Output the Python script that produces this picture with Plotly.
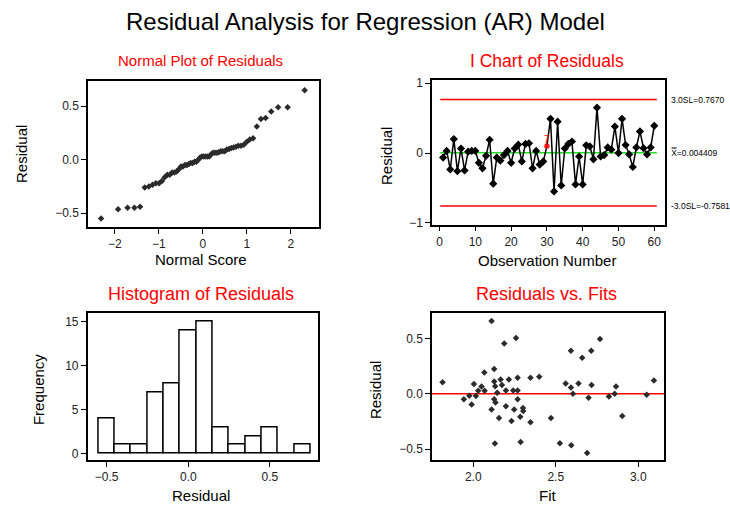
import plotly.graph_objects as go

# ---------------- data ----------------
observations = list(range(1, 61))
residuals = [-0.065, 0.03, -0.235, 0.2, -0.26, 0.065, -0.25, 0.02, 0.03, 0.03,
             -0.14, -0.22, -0.04, 0.19, -0.44, -0.065, -0.11, -0.03, 0.03, -0.14,
             0.065, 0.12, -0.12, 0.13, 0.14, -0.22, 0.03, -0.165, -0.12, 0.10,
             0.49, -0.55, 0.45, -0.465, 0.065, 0.13, 0.165, -0.45, -0.05, -0.45,
             0.11, 0.095, -0.09, 0.65, -0.05, -0.03, 0.08, 0.05, 0.38, 0.0,
             0.49, 0.115, -0.02, -0.2, 0.08, 0.31, 0.07, -0.02, 0.08, 0.39]

normal_scores = [-2.313, -1.927, -1.711, -1.554, -1.427, -1.320, -1.227, -1.142, -1.066, -0.995,
                 -0.930, -0.867, -0.808, -0.752, -0.698, -0.645, -0.595, -0.546, -0.498, -0.452,
                 -0.406, -0.361, -0.317, -0.274, -0.231, -0.188, -0.146, -0.104, -0.062, -0.021,
                 0.021, 0.062, 0.104, 0.146, 0.188, 0.231, 0.274, 0.317, 0.361, 0.406,
                 0.452, 0.498, 0.546, 0.595, 0.645, 0.698, 0.752, 0.808, 0.867, 0.930,
                 0.995, 1.066, 1.142, 1.227, 1.320, 1.427, 1.554, 1.711, 1.927, 2.313]
sorted_residuals = sorted(residuals)

UCL = 0.7670
CL = 0.004409
LCL = -0.7581
flagged_obs = 30
flag_label = "7"

hist_centers = [-0.5, -0.4, -0.3, -0.2, -0.1, 0.0, 0.1, 0.2, 0.3, 0.4, 0.5, 0.6, 0.7]
hist_counts = [4, 1, 1, 7, 8, 14, 15, 3, 1, 2, 3, 0, 1]

fits = [1.814, 1.943, 1.976, 1.990, 2.004, 2.016, 2.030, 2.050, 2.067, 2.069,
        2.111, 2.111, 2.127, 2.127, 2.127, 2.133, 2.135, 2.145, 2.131, 2.156,
        2.166, 2.174, 2.188, 2.198, 2.198, 2.216, 2.232, 2.242, 2.248, 2.259,
        2.269, 2.269, 2.269, 2.285, 2.287, 2.301, 2.303, 2.347, 2.347, 2.400,
        2.471, 2.525, 2.560, 2.592, 2.592, 2.594, 2.604, 2.638, 2.660, 2.690,
        2.699, 2.715, 2.717, 2.768, 2.822, 2.857, 2.865, 2.903, 3.051, 3.095]
fit_residuals = [0.104, -0.050, -0.018, -0.098, 0.089, -0.020, 0.027, 0.065, 0.193, 0.027,
                 0.659, -0.142, 0.223, 0.110, -0.050, 0.068, -0.080, 0.009, -0.451, -0.220,
                 0.130, 0.080, 0.454, -0.113, 0.030, 0.130, -0.246, 0.030, -0.142, 0.504,
                 0.145, 0.030, -0.050, -0.208, -0.436, -0.128, -0.157, 0.145, -0.258, 0.154,
                 -0.220, -0.448, 0.092, 0.389, 0.056, -0.466, 0.000, 0.092, 0.326, -0.537,
                 -0.036, 0.389, 0.080, 0.496, -0.024, 0.000, 0.065, -0.202, -0.009, 0.119]

# ---------------- figure ----------------
W, H = 730, 509
FONT = "Liberation Sans, Arial, sans-serif"
MARK = dict(symbol="diamond", size=5, color="#2b2b2b")

fig = go.Figure()

# Normal plot
fig.add_trace(go.Scatter(x=normal_scores, y=sorted_residuals, mode="markers",
                         marker=MARK, xaxis="x", yaxis="y", showlegend=False))

# I chart
flag_i = observations.index(flagged_obs)
colors = ["#000000"] * len(observations)
symbols = ["diamond"] * len(observations)
colors[flag_i] = "#ff0000"
symbols[flag_i] = "asterisk-open"
fig.add_trace(go.Scatter(x=observations, y=residuals, mode="lines+markers",
                         line=dict(color="black", width=1.5),
                         marker=dict(symbol=symbols, size=5, color=colors,
                                     line=dict(color=colors, width=1.2)),
                         xaxis="x2", yaxis="y2", showlegend=False))

# Histogram
fig.add_trace(go.Bar(x=hist_centers, y=hist_counts, width=0.1,
                     marker=dict(color="white", line=dict(color="black", width=1.5)),
                     xaxis="x3", yaxis="y3", showlegend=False))

# Residuals vs fits
fig.add_trace(go.Scatter(x=fits, y=fit_residuals, mode="markers",
                         marker=MARK, xaxis="x4", yaxis="y4", showlegend=False))


def px_x(p):
    return p / W


def px_y(p):
    return 1 - p / H


axis_style = dict(showline=True, linecolor="black", linewidth=1.5, mirror=True,
                  ticks="outside", ticklen=5, tickwidth=1, tickcolor="black",
                  showgrid=False, zeroline=False,
                  tickfont=dict(size=12, color="#222222", family=FONT))

fig.update_layout(
    width=W, height=H,
    margin=dict(l=0, r=0, t=0, b=0),
    paper_bgcolor="white", plot_bgcolor="white",
    font=dict(family=FONT, color="black"),
    bargap=0,
    xaxis=dict(domain=[px_x(88), px_x(319)], range=[-2.61, 2.64], anchor="y",
               tickvals=[-2, -1, 0, 1, 2], **axis_style),
    yaxis=dict(domain=[px_y(227), px_y(78)], range=[-0.63, 0.74], anchor="x",
               tickvals=[-0.5, 0.0, 0.5], tickformat=".1f", **axis_style),
    xaxis2=dict(domain=[px_x(432), px_x(665)], range=[-2.1, 63], anchor="y2",
                tickvals=[0, 10, 20, 30, 40, 50, 60], **axis_style),
    yaxis2=dict(domain=[px_y(224.5), px_y(77.5)], range=[-1.025, 1.045], anchor="x2",
                tickvals=[-1, 0, 1], **axis_style),
    xaxis3=dict(domain=[px_x(87.7), px_x(318.3)], range=[-0.616, 0.796], anchor="y3",
                tickvals=[-0.5, 0.0, 0.5], tickformat=".1f", **axis_style),
    yaxis3=dict(domain=[px_y(464.3), px_y(315)], range=[-0.74, 15.93], anchor="x3",
                tickvals=[0, 5, 10, 15], **axis_style),
    xaxis4=dict(domain=[px_x(432), px_x(664)], range=[1.75, 3.156], anchor="y4",
                tickvals=[2.0, 2.5, 3.0], tickformat=".1f", **axis_style),
    yaxis4=dict(domain=[px_y(464.3), px_y(314.3)], range=[-0.60, 0.733], anchor="x4",
                tickvals=[-0.5, 0.0, 0.5], tickformat=".1f", **axis_style),
)

# Control lines
x_lo, x_hi = observations[0] - 0.8, observations[-1] + 0.7
for val, col in [(UCL, "#ff0000"), (LCL, "#ff0000"), (CL, "#22dd22")]:
    fig.add_shape(type="line", xref="x2", yref="y2", x0=x_lo, x1=x_hi, y0=val, y1=val,
                  line=dict(color=col, width=1.5), layer="below")
fig.add_shape(type="line", xref="x4 domain", yref="y4", x0=0, x1=1, y0=0, y1=0,
              line=dict(color="#ff0000", width=1.5), layer="below")

ann = []


def text(x, y, s, size, color="black", angle=0, xanchor="center", xref="paper", yref="paper"):
    ann.append(dict(x=x, y=y, xref=xref, yref=yref, text=s, showarrow=False,
                    xanchor=xanchor, yanchor="middle", textangle=angle,
                    font=dict(size=size, color=color, family=FONT)))


text(0.5, px_y(18), "Residual Analysis for Regression (AR) Model", 24)
text(px_x(201), px_y(58), "Normal Plot of Residuals", 15, "#ff0000")
text(px_x(547), px_y(58), "I Chart of Residuals", 17.5, "#ff0000")
text(px_x(200.5), px_y(295), "Histogram of Residuals", 18, "#ff0000")
text(px_x(546), px_y(295), "Residuals vs. Fits", 18, "#ff0000")

text(px_x(201), px_y(260), "Normal Score", 15)
text(px_x(21.7), px_y(153), "Residual", 15, angle=-90)
text(px_x(547), px_y(261), "Observation Number", 15)
text(px_x(386.7), px_y(155), "Residual", 15, angle=-90)
text(px_x(200.5), px_y(500), "Residual", 15)
text(px_x(38), px_y(393), "Frequency", 15, angle=-90)
text(px_x(547.5), px_y(500), "Fit", 15)
text(px_x(375), px_y(393), "Residual", 15, angle=-90)

# control limit labels
text(px_x(669), UCL, "3.0SL=%.4f" % UCL, 8.5, xanchor="left", yref="y2")
text(px_x(669), CL, "X\u033f=%.6f" % CL, 8.5, xanchor="left", yref="y2")
text(px_x(669), LCL, "-3.0SL=%.4f" % LCL, 8.5, xanchor="left", yref="y2")
# flagged point label
text(flagged_obs, residuals[flag_i] + 0.1, flag_label, 10, "#ff0000", xref="x2", yref="y2")

fig.update_layout(annotations=ann)

fig.write_html(
    "out.html",
    config={"displayModeBar": False},
    post_script="document.body.style.margin='0';"
                "document.documentElement.style.overflow='hidden';"
                "document.body.style.overflow='hidden';",
)
